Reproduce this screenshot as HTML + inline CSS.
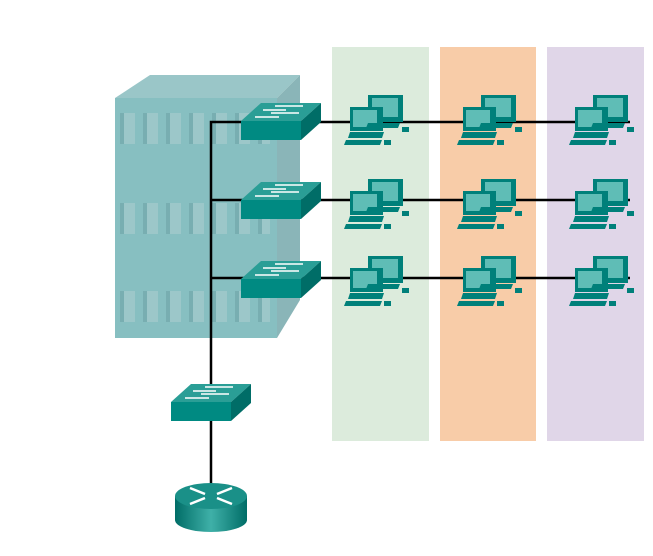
<!DOCTYPE html>
<html><head><style>body{margin:0;background:#fff}svg{display:block}</style></head><body>
<svg width="653" height="556" viewBox="0 0 653 556" xmlns="http://www.w3.org/2000/svg">
<defs>
<g id="slots">
<g fill="#9cc7c9"><rect x="120" y="0" width="15" height="31"/><rect x="143" y="0" width="15" height="31"/><rect x="166" y="0" width="15" height="31"/><rect x="189" y="0" width="15" height="31"/><rect x="212" y="0" width="15" height="31"/><rect x="235" y="0" width="15" height="31"/><rect x="258" y="0" width="12" height="31"/></g>
<g fill="#78aeb1"><rect x="120" y="0" width="4" height="31"/><rect x="143" y="0" width="4" height="31"/><rect x="166" y="0" width="4" height="31"/><rect x="189" y="0" width="4" height="31"/><rect x="212" y="0" width="4" height="31"/><rect x="235" y="0" width="4" height="31"/><rect x="258" y="0" width="4" height="31"/></g>
</g>
<g id="sw">
<polygon points="0,18 20,0 80,0 60,18" fill="#2a9e96"/>
<polygon points="60,18 80,0 80,19 60,37" fill="#006d67"/>
<rect x="0" y="18" width="60" height="19" fill="#008a82"/>
<g stroke="#fff" stroke-width="1.6"><line x1="34" y1="3" x2="62" y2="3"/><line x1="22" y1="7" x2="45" y2="7"/><line x1="30" y1="10" x2="58" y2="10"/><line x1="14" y1="14" x2="38" y2="14"/></g>
</g>
<g id="pc">
<rect x="28" y="5" width="35" height="27" fill="#00807a"/><rect x="32" y="8" width="26" height="19" fill="#5fbdb6"/>
<rect x="10" y="17" width="33" height="24" fill="#00807a"/><rect x="13" y="20" width="24" height="17" fill="#5fbdb6"/>
<polygon points="28,33 60,33 58,38 26,38" fill="#00807a"/>
<polygon points="10,42 44,42 42,48 8,48" fill="#00807a"/>
<polygon points="6,50 42,50 40,55 4,55" fill="#00807a"/>
<rect x="62" y="37" width="7" height="5" fill="#00807a"/>
<rect x="44" y="50" width="7" height="5" fill="#00807a"/>
</g>
</defs>
<rect x="332" y="47" width="97" height="394" fill="#dcebdc"/>
<rect x="440" y="47" width="96" height="394" fill="#f8cca8"/>
<rect x="547" y="47" width="97" height="394" fill="#e0d6e8"/>
<polygon points="115,98 150,75 300,75 277,98" fill="#9ac6c8"/>
<polygon points="277,98 300,75 300,300 277,338" fill="#8ab5b8"/>
<rect x="115" y="98" width="162" height="240" fill="#87bfc1"/>
<use href="#slots" y="113"/><use href="#slots" y="203"/><use href="#slots" y="291"/>
<g stroke="#000" stroke-width="2.5" fill="none">
<polyline points="211,484 211,122 630,122"/>
<line x1="211" y1="200" x2="630" y2="200"/>
<line x1="211" y1="278" x2="630" y2="278"/>
</g>
<use href="#sw" x="241" y="103"/><use href="#sw" x="241" y="182"/><use href="#sw" x="241" y="261"/><use href="#sw" x="171" y="384"/>
<use href="#pc" x="340" y="90"/><use href="#pc" x="453" y="90"/><use href="#pc" x="565" y="90"/>
<use href="#pc" x="340" y="174"/><use href="#pc" x="453" y="174"/><use href="#pc" x="565" y="174"/>
<use href="#pc" x="340" y="251"/><use href="#pc" x="453" y="251"/><use href="#pc" x="565" y="251"/>
<defs><linearGradient id="rg" x1="0" x2="1"><stop offset="0" stop-color="#006d67"/><stop offset="0.5" stop-color="#3fb0a8"/><stop offset="1" stop-color="#006d67"/></linearGradient></defs>
<path d="M175,496 L175,520 A36,12 0 0 0 247,520 L247,496 Z" fill="url(#rg)"/>
<ellipse cx="211" cy="496" rx="36" ry="13" fill="#1a9088"/>
<g stroke="#fff" stroke-width="2.5"><line x1="190" y1="488" x2="205" y2="494"/><line x1="217" y1="498" x2="232" y2="504"/><line x1="232" y1="488" x2="217" y2="494"/><line x1="205" y1="498" x2="190" y2="504"/></g>
</svg>
</body></html>
